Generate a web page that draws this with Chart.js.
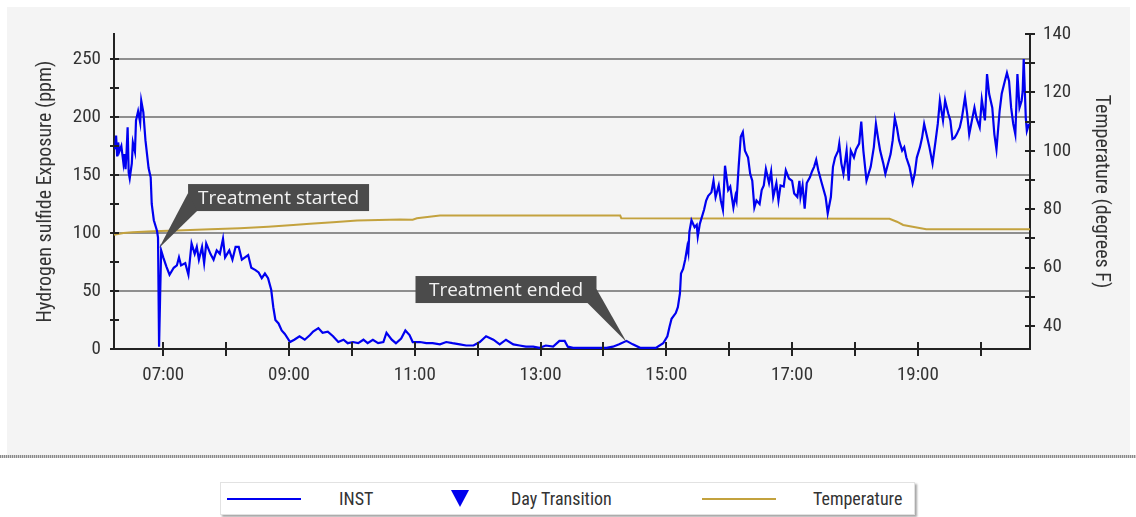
<!DOCTYPE html>
<html>
<head>
<meta charset="utf-8">
<script src="https://cdn.jsdelivr.net/npm/chart.js@4.4.1/dist/chart.umd.min.js"></script>
<style>
  body { margin: 0; background: #fff; width: 1136px; height: 517px; position: relative; overflow: hidden; }
  #panel { position: absolute; left: 7px; top: 7px; width: 1123px; height: 448px; background: #f4f4f4; }
  #rule { position: absolute; left: 0; top: 455px; width: 1136px; height: 3px;
          background: repeating-linear-gradient(90deg, #8a8a8a 0 1px, #d0d0d0 1px 2px); }
  #chart { position: absolute; left: 0; top: 0; }
  #legend { position: absolute; left: 220px; top: 482px; width: 693px; height: 31px; background: #fff;
            border: 1px solid #e2e2e2; box-shadow: 2px 2px 2px rgba(0,0,0,0.35);
            font: 18px 'Roboto Condensed', sans-serif; color: #333; }
  .item { position: absolute; top: 0; height: 31px; display: flex; align-items: center; }
  .line { height: 2px; width: 74px; }
  .tri { width: 0; height: 0; border-left: 9px solid transparent; border-right: 9px solid transparent; border-top: 17px solid #0000ee; }
</style>
</head>
<body>
<div id="panel"></div>
<div id="rule"></div>
<canvas id="chart" width="1136" height="455"></canvas>
<div id="legend"></div>
<script>
// eje horizontal
const axisStart = '06:13';
const axisEnd = '20:47';
const xTickHours = [7, 8, 9, 10, 11, 12, 13, 14, 15, 16, 17, 18, 19, 20];
const xTickLabels = ['07:00', '', '09:00', '', '11:00', '', '13:00', '', '15:00', '', '17:00', '', '19:00', ''];

// ejes verticales
const h2sMax = 271.5;
const h2sTicks = [0, 25, 50, 75, 100, 125, 150, 175, 200, 225, 250];
const h2sLabels = ['0', '', '50', '', '100', '', '150', '', '200', '', '250'];
const tempMin = 32.1;
const tempMax = 140;
const tempTicks = [40, 50, 60, 70, 80, 90, 100, 110, 120, 130, 140];
const tempLabels = ['40', '', '60', '', '80', '', '100', '', '120', '', '140'];

// INST (ppm)
const instTimes = [
  '06:14','06:15','06:16','06:17','06:18','06:20','06:22','06:23','06:24','06:25','06:26','06:27','06:28','06:30','06:31','06:33','06:34','06:36','06:38','06:39','06:41','06:43','06:46','06:47','06:48','06:49','06:51','06:54','06:55','06:56','06:57','06:58',
  '07:00','07:03','07:06','07:10','07:13','07:15','07:17','07:21','07:24','07:27','07:30','07:32','07:34','07:37','07:39','07:41','07:45','07:48','07:51','07:54','07:57','07:59',
  '08:03','08:06','08:09','08:12','08:15','08:18','08:21','08:24','08:28','08:31','08:34','08:37','08:40','08:43','08:45','08:47','08:50','08:53','08:56',
  '09:01','09:05','09:10','09:15','09:20','09:23','09:28','09:32','09:37','09:42','09:47','09:52','09:56',
  '10:01','10:06','10:11','10:15','10:20','10:25','10:30','10:33','10:38','10:42','10:47','10:51','10:55','10:58',
  '11:05','11:11','11:17','11:24','11:30','11:36','11:43','11:49','11:56',
  '12:02','12:08','12:15','12:21','12:27','12:34','12:40','12:46','12:53','12:59',
  '13:05','13:12','13:18','13:23','13:26','13:31','13:44','13:56',
  '14:03','14:09','14:15','14:22','14:28','14:35','14:41','14:50','14:57',
  '15:01','15:03','15:05','15:09','15:11','15:13','15:14','15:16','15:18','15:20','15:21','15:22','15:24','15:27','15:29','15:30','15:32','15:36','15:38','15:40','15:43','15:45','15:47','15:50','15:52','15:54','15:56','15:59',
  '16:01','16:04','16:06','16:07','16:09','16:11','16:13','16:15','16:18','16:20','16:22','16:24','16:26','16:29','16:31','16:33','16:35','16:38','16:40','16:42','16:45','16:47','16:49','16:52','16:54','16:57',
  '17:00','17:02','17:05','17:07','17:08','17:10','17:12','17:14','17:17','17:19','17:21','17:23','17:25','17:28','17:32','17:34','17:37','17:39','17:41','17:44','17:45','17:47','17:49','17:52','17:54','17:56','17:59',
  '18:01','18:04','18:06','18:08','18:11','18:13','18:15','18:18','18:20','18:22','18:24','18:27','18:29','18:31','18:34','18:36','18:38','18:40','18:42','18:45','18:47','18:49','18:52','18:55','18:57','18:59',
  '19:02','19:04','19:06','19:09','19:11','19:14','19:17','19:19','19:21','19:24','19:26','19:29','19:31','19:33','19:35','19:37','19:40','19:42','19:45','19:47','19:49','19:52','19:54','19:56','19:59',
  '20:01','20:04','20:06','20:08','20:11','20:13','20:15','20:18','20:20','20:23','20:25','20:27','20:29','20:31','20:33','20:35','20:37','20:39','20:40','20:41','20:43','20:44','20:46'
];
const instValues = [
  172,184,166,178,170,175,160,168,155,170,191,152,147,160,178,170,197,205,195,214,204,180,156,152,148,125,111,102,96,2,45,85,
  79,71,64,70,72,79,72,74,64,91,82,88,77,88,74,91,82,77,85,82,95,79,
  85,77,88,88,77,79,81,70,68,66,61,65,61,51,36,25,22,16,13,
  6,8,11,8,12,15,18,14,15,11,6,8,5,
  6,5,8,5,8,5,6,14,8,5,9,16,12,6,
  6,5,5,4,6,5,4,3,3,
  6,11,8,4,8,4,3,2,2,1,
  3,2,7,7,2,1,1,1,
  1,2,4,7,4,1,1,1,5,
  11,19,26,31,36,48,65,69,77,88,83,101,111,105,107,97,108,120,128,132,135,145,131,141,128,120,158,137,
  140,122,132,128,157,183,187,171,165,151,145,122,128,125,137,141,155,143,153,131,143,128,141,140,154,147,
  145,134,131,145,131,141,121,143,148,153,157,163,154,144,131,117,131,157,165,171,177,160,151,171,145,171,165,
  172,177,196,171,145,151,157,174,194,182,171,160,151,158,168,180,199,191,180,171,174,165,157,143,151,165,
  174,182,194,182,174,160,180,194,214,197,214,203,197,181,182,185,191,199,217,203,185,199,208,199,191,
  215,197,237,220,208,185,172,205,220,231,238,231,208,194,185,237,208,214,222,250,199,188,194
];

// Temperatura (F)
const tempTimes = ['06:13','06:22','06:31','06:50','07:13','07:45','08:13','08:40','09:04','09:20','09:42','10:05','10:46','10:58','11:02','11:24','14:16','14:17','18:33','18:40','18:46','18:55','19:08','20:47'];
const tempValues = [71.2,71.8,72.1,72.4,72.7,73.1,73.5,74.0,74.6,75.0,75.5,76.1,76.5,76.4,76.9,77.8,77.8,76.9,76.7,75.7,74.6,74.0,73.1,73.1];

// Anotaciones
const noteTexts = ['Treatment started', 'Treatment ended'];
const noteTimes = ['06:56', '14:22'];
const noteValues = [87, 6];

function toHours(s) {
    const [h, m] = s.split(':').map(Number);
    return h + m / 60;
}

const tickFont = { family: "'Roboto Condensed', sans-serif", size: 19 };
const titleFont = { family: "'Roboto Condensed', sans-serif", size: 20 };

// Marcas de eje que cruzan la linea y globos de texto
const overlay = {
    id: 'overlay',
    afterDatasetsDraw(chart, args, opts) {
        const ctx = chart.ctx;
        const area = chart.chartArea;
        const { x, y, y1 } = chart.scales;
        ctx.save();
        ctx.strokeStyle = '#222';
        ctx.lineWidth = 2;
        ctx.beginPath();
        x.ticks.forEach(t => {
            const px = Math.round(x.getPixelForValue(t.value));
            ctx.moveTo(px, area.bottom - 7);
            ctx.lineTo(px, area.bottom + 7);
        });
        y.ticks.forEach(t => {
            const py = Math.round(y.getPixelForValue(t.value));
            ctx.moveTo(area.left - 4, py);
            ctx.lineTo(area.left + 5, py);
        });
        y1.ticks.forEach(t => {
            const py = Math.round(y1.getPixelForValue(t.value));
            ctx.moveTo(area.right - 5, py);
            ctx.lineTo(area.right + 5, py);
        });
        ctx.stroke();

        noteTexts.forEach((text, i) => {
            const tipX = x.getPixelForValue(toHours(noteTimes[i]));
            const tipY = y.getPixelForValue(noteValues[i]);
            const b = opts.boxes[i];
            const left = b.side === 'left' ? tipX + b.dx : tipX + b.dx - b.w;
            const top = tipY + b.dy;
            ctx.fillStyle = '#4b4b4b';
            ctx.fillRect(left, top, b.w, b.h);
            ctx.beginPath();
            if (b.side === 'left') {
                ctx.moveTo(left, top + 9);
                ctx.lineTo(tipX, tipY);
                ctx.lineTo(left + 9, top + b.h);
            } else {
                ctx.moveTo(left + b.w, top + 13);
                ctx.lineTo(tipX, tipY);
                ctx.lineTo(left + b.w - 9, top + b.h);
            }
            ctx.closePath();
            ctx.fill();
            ctx.fillStyle = '#f2f2f2';
            ctx.font = "19px 'Open Sans', sans-serif";
            ctx.textAlign = 'center';
            ctx.textBaseline = 'middle';
            ctx.fillText(text, left + b.w / 2, top + b.h / 2 + 1);
        });
        ctx.restore();
    }
};

const ctx = document.getElementById('chart').getContext('2d');
const chart = new Chart(ctx, {
    type: 'line',
    data: {
        datasets: [{
            label: 'INST',
            data: instTimes.map((t, i) => ({ x: toHours(t), y: instValues[i] })),
            borderColor: '#0000f0',
            borderWidth: 2.2,
            pointRadius: 0,
            tension: 0,
            yAxisID: 'y'
        }, {
            label: 'Day Transition',
            data: [],
            showLine: false,
            pointStyle: 'triangle',
            rotation: 180,
            backgroundColor: '#0000ee',
            borderColor: '#0000ee',
            yAxisID: 'y'
        }, {
            label: 'Temperature',
            data: tempTimes.map((t, i) => ({ x: toHours(t), y: tempValues[i] })),
            borderColor: '#c3a23e',
            borderWidth: 2,
            pointRadius: 0,
            tension: 0,
            yAxisID: 'y1'
        }]
    },
    options: {
        responsive: false,
        animation: false,
        devicePixelRatio: 1,
        layout: { padding: { left: 34, right: 23, top: 34, bottom: 0 } },
        scales: {
            x: {
                type: 'linear',
                min: toHours(axisStart),
                max: toHours(axisEnd),
                afterBuildTicks: s => { s.ticks = xTickHours.map(v => ({ value: v })); },
                afterFit: s => { s.height = 106; },
                ticks: {
                    autoSkip: false,
                    maxRotation: 0,
                    padding: 15,
                    color: '#333',
                    font: tickFont,
                    callback: (v, i) => xTickLabels[i]
                },
                grid: { drawOnChartArea: false, drawTicks: false },
                border: { color: '#222', width: 2 }
            },
            y: {
                position: 'left',
                min: 0,
                max: h2sMax,
                afterBuildTicks: s => { s.ticks = h2sTicks.map(v => ({ value: v })); },
                afterFit: s => { s.width = 80; },
                ticks: {
                    padding: 13,
                    color: '#333',
                    font: tickFont,
                    callback: (v, i) => h2sLabels[i]
                },
                grid: {
                    drawTicks: false,
                    lineWidth: 2,
                    color: c => (c.tick && c.tick.value > 0 && c.tick.value % 50 === 0) ? '#8e8e8e' : 'rgba(0,0,0,0)'
                },
                border: { color: '#222', width: 2 },
                title: { display: true, text: 'Hydrogen sulfide Exposure (ppm)', color: '#333', font: titleFont, padding: 0 }
            },
            y1: {
                position: 'right',
                min: tempMin,
                max: tempMax,
                afterBuildTicks: s => { s.ticks = tempTicks.map(v => ({ value: v })); },
                afterFit: s => { s.width = 83; },
                ticks: {
                    padding: 13,
                    color: '#333',
                    font: tickFont,
                    callback: (v, i) => tempLabels[i]
                },
                grid: { drawOnChartArea: false, drawTicks: false },
                border: { color: '#222', width: 2 },
                title: { display: true, text: 'Temperature (degrees F)', color: '#333', font: titleFont, padding: 0 }
            }
        },
        plugins: {
            legend: { display: false },
            tooltip: { enabled: false },
            overlay: {
                boxes: [
                    { side: 'left', dx: 29, dy: -64, w: 181, h: 27 },
                    { side: 'right', dx: -30, dy: -66, w: 181, h: 27 }
                ]
            }
        }
    },
    plugins: [overlay]
});

// Leyenda en HTML a partir de los datasets
const legendSlots = [{ left: 6, gap: 38 }, { left: 230, gap: 42 }, { left: 481, gap: 37 }];
const legend = document.getElementById('legend');
chart.data.datasets.forEach((ds, i) => {
    const item = document.createElement('div');
    item.className = 'item';
    item.style.left = legendSlots[i].left + 'px';
    const sw = document.createElement('div');
    if (ds.pointStyle === 'triangle') {
        sw.className = 'tri';
        sw.style.borderTopColor = ds.backgroundColor;
    } else {
        sw.className = 'line';
        sw.style.background = ds.borderColor;
    }
    const lab = document.createElement('span');
    lab.textContent = ds.label;
    lab.style.marginLeft = legendSlots[i].gap + 'px';
    item.appendChild(sw);
    item.appendChild(lab);
    legend.appendChild(item);
});
</script>
</body>
</html>
